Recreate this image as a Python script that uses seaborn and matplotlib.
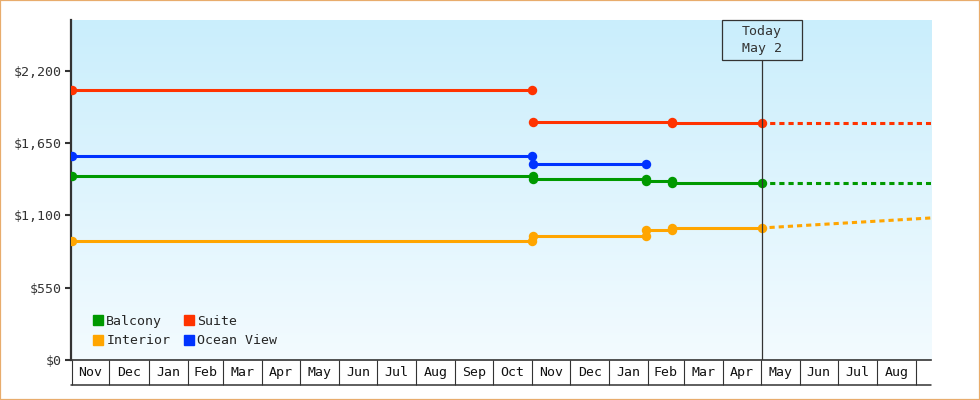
import pandas as pd
import matplotlib.pyplot as plt
import matplotlib.dates as mdates
import matplotlib.transforms as mtransforms
from matplotlib.patches import Patch, Rectangle
import numpy as np
import seaborn as sns

sns.set_style('ticks')
plt.rcParams['font.family'] = ['DejaVu Sans Mono']

# price history, one horizontal segment per fare period
balcony_start = ['2021-11-01', '2022-11-02', '2023-01-30', '2023-02-20']
balcony_end = ['2022-11-02', '2023-01-30', '2023-02-20', '2023-05-02']
balcony_price = [1399, 1373, 1358, 1346]

interior_start = ['2021-11-01', '2022-11-02', '2023-01-30', '2023-02-20']
interior_end = ['2022-11-01', '2023-01-30', '2023-02-20', '2023-05-02']
interior_price = [908, 941, 991, 1004]

suite_start = ['2021-11-01', '2022-11-02', '2023-02-20']
suite_end = ['2022-11-01', '2023-02-20', '2023-05-02']
suite_price = [2051, 1808, 1799]

ocean_start = ['2021-11-01', '2022-11-02']
ocean_end = ['2022-11-01', '2023-01-30']
ocean_price = [1553, 1490]

# projection after today
proj_dates = ['2023-05-02', '2023-09-13']
balcony_proj = [1346, 1346]
interior_proj = [1004, 1080]
suite_proj = [1799, 1799]

today = '2023-05-02'
today_label = 'Today\nMay 2'

month_labels = ['Nov', 'Dec', 'Jan', 'Feb', 'Mar', 'Apr', 'May', 'Jun', 'Jul', 'Aug', 'Sep', 'Oct',
                'Nov', 'Dec', 'Jan', 'Feb', 'Mar', 'Apr', 'May', 'Jun', 'Jul', 'Aug']
yticks = [0, 550, 1100, 1650, 2200]
ytick_labels = ['$0', '$550', '$1,100', '$1,650', '$2,200']

colors = {'Balcony': '#009900', 'Interior': '#ffa500', 'Suite': '#ff3300', 'Ocean View': '#0033ff'}

rows = []
seg = 0
for name, starts, ends, prices in [('Balcony', balcony_start, balcony_end, balcony_price),
                                   ('Interior', interior_start, interior_end, interior_price),
                                   ('Suite', suite_start, suite_end, suite_price),
                                   ('Ocean View', ocean_start, ocean_end, ocean_price)]:
    for s, e, p in zip(starts, ends, prices):
        rows.append({'date': s, 'price': p, 'series': name, 'seg': seg})
        rows.append({'date': e, 'price': p, 'series': name, 'seg': seg})
        seg += 1
hist = pd.DataFrame(rows)
hist['date'] = pd.to_datetime(hist['date'])

proj_rows = []
for name, vals in [('Balcony', balcony_proj), ('Interior', interior_proj), ('Suite', suite_proj)]:
    for d, v in zip(proj_dates, vals):
        proj_rows.append({'date': d, 'price': v, 'series': name})
proj = pd.DataFrame(proj_rows)
proj['date'] = pd.to_datetime(proj['date'])

fig = plt.figure(figsize=(9.8, 4), dpi=100)
ax = fig.add_axes([71 / 980, 40 / 400, 860 / 980, 340 / 400])

# gradient background
grad = np.linspace(0, 1, 256).reshape(-1, 1)
cmap = plt.matplotlib.colors.LinearSegmentedColormap.from_list('bg', ['#caeefc', '#f3fbff'])
ax.imshow(grad, cmap=cmap, aspect='auto', extent=[0, 1, 0, 1], transform=ax.transAxes, zorder=0)

sns.lineplot(data=proj, x='date', y='price', hue='series', palette=colors, estimator=None,
             linewidth=2.2, linestyle=(0.5, (1.7, 1.3)), legend=False, ax=ax, zorder=2)
sns.lineplot(data=hist, x='date', y='price', hue='series', units='seg', palette=colors, estimator=None,
             sort=False, linewidth=2.2, marker='o', markersize=6.8, markeredgewidth=0,
             legend=False, ax=ax, zorder=3)

x0 = pd.Timestamp('2021-10-31 12:00')
x1 = pd.Timestamp('2023-09-13')
ax.set_xlim(x0, x1)
ax.set_ylim(0, 2585)
ax.set_xlabel('')
ax.set_ylabel('')

# today marker
tnum = mdates.date2num(pd.Timestamp(today))
ax.axvline(pd.Timestamp(today), ymax=0.882, color='#333333', lw=0.9, zorder=4)
trans = mtransforms.blended_transform_factory(ax.transData, ax.transAxes)
ax.add_patch(Rectangle((tnum - 31.6, 0.882), 63.2, 0.118, transform=trans, fill=False,
                       ec='#333333', lw=0.9, clip_on=False, zorder=5))
ax.text(tnum, 0.941, today_label, transform=trans, ha='center', va='center',
        fontsize=9.5, color='#333333', linespacing=1.35, zorder=5)

# month boxes on x axis
month_starts = pd.date_range('2021-11-01', '2023-09-01', freq='MS')
mids = [month_starts[i] + (month_starts[i + 1] - month_starts[i]) / 2 for i in range(len(month_labels))]
ax.set_xticks(mids)
ax.set_xticklabels(month_labels)
ax.set_xticks(month_starts, minor=True)
ax.tick_params(axis='x', which='major', length=0, pad=4.5, labelsize=9.5, labelcolor='#111111')
ax.tick_params(axis='x', which='minor', length=18, width=0.8, color='#333333', direction='out')
ax.plot([0, 1], [-25 / 340, -25 / 340], transform=ax.transAxes, color='#333333', lw=1.1, clip_on=False)

ax.set_yticks(yticks)
ax.set_yticklabels(ytick_labels)
ax.tick_params(axis='y', length=4.5, width=1.5, color='#333333', labelsize=9.5, labelcolor='#333333', pad=2)

for side in ['top', 'right']:
    ax.spines[side].set_visible(False)
ax.spines['left'].set_color('#333333')
ax.spines['left'].set_linewidth(1.6)
ax.spines['bottom'].set_color('#333333')
ax.spines['bottom'].set_linewidth(1.2)

handles = [Patch(color=colors[n], label=n) for n in ['Balcony', 'Interior', 'Suite', 'Ocean View']]
ax.legend(handles=handles, ncol=2, loc='upper left', bbox_to_anchor=(0.025, 0.133), frameon=False,
          fontsize=9.5, handlelength=0.8, handleheight=0.8, handletextpad=0.25, columnspacing=1.0,
          labelspacing=0.5, borderpad=0, borderaxespad=0)

fig.add_artist(Rectangle((0, 0), 1, 1, transform=fig.transFigure, fill=False, ec='#e8ac6c', lw=1.6))

fig.savefig('out.png', dpi=100)
